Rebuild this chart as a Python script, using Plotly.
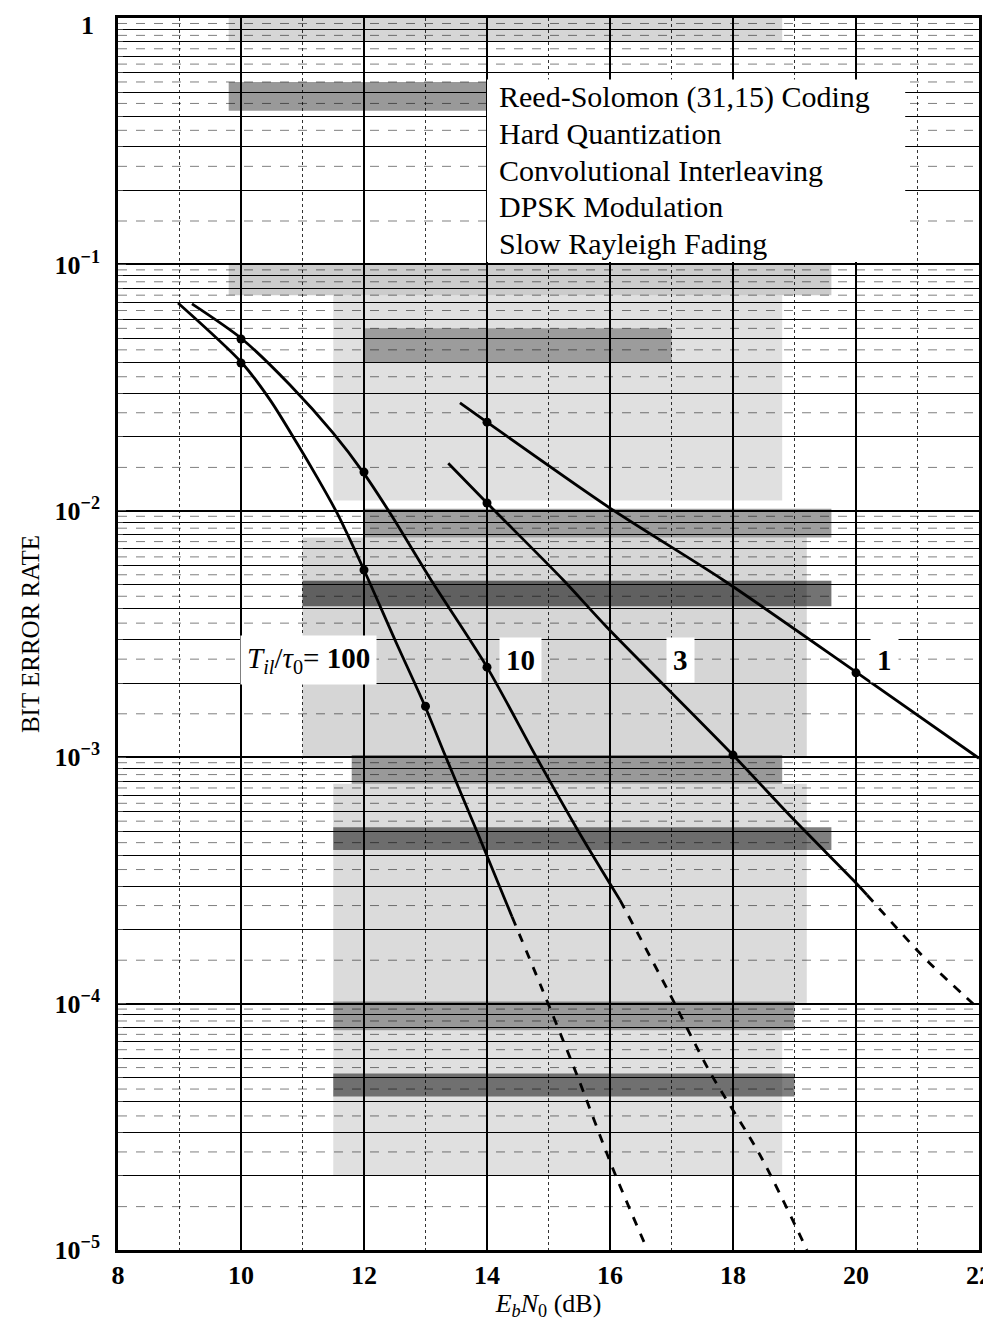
import math
import plotly.graph_objects as go

# ---- data ----
# T_il/tau0 = 100
ebn0_100 = [8.976, 10.016, 10.472, 10.911, 11.236, 11.561, 12.0, 12.504, 12.992, 13.317, 13.854, 14.407]
ber_100 = [0.0697, 0.0398, 0.0282, 0.0188, 0.0137, 0.0098, 0.00575, 0.00299, 0.00161, 0.00102, 0.000488, 0.000225]
ebn0_100_ext = [14.407, 14.894, 15.463, 16.049, 16.602]
ber_100_ext = [0.000225, 0.000115, 5.13e-5, 2.13e-5, 1.01e-5]
mk_x_100 = [10, 12, 13]
mk_y_100 = [0.0398, 0.00575, 0.00161]

# T_il/tau0 = 10
ebn0_10 = [9.203, 10.016, 10.797, 11.496, 11.984, 12.423, 13.122, 14.0, 14.813, 15.512, 16.163]
ber_10 = [0.0691, 0.0498, 0.0324, 0.0207, 0.01436, 0.0098, 0.00509, 0.00232, 0.00099, 0.000488, 0.000263]
ebn0_10_ext = [16.163, 16.927, 17.626, 18.439, 19.203]
ber_10_ext = [0.000263, 0.000115, 5.27e-5, 2.43e-5, 1.0e-5]
mk_x_10 = [10, 12, 14]
mk_y_10 = [0.0498, 0.01436, 0.00232]

# T_il/tau0 = 3
ebn0_3 = [13.37, 14.0, 15.24, 15.95, 18.0, 18.98, 19.95, 20.18]
ber_3 = [0.0156, 0.01076, 0.00524, 0.00337, 0.00102, 0.000561, 0.000318, 0.000276]
ebn0_3_ext = [20.18, 21.15, 21.98]
ber_3_ext = [0.000276, 0.000150, 9.6e-5]
mk_x_3 = [14, 18]
mk_y_3 = [0.01076, 0.00102]

# T_il/tau0 = 1
ebn0_1 = [13.56, 14.0, 16.0, 17.84, 20.02, 22.0]
ber_1 = [0.0274, 0.0229, 0.01026, 0.00524, 0.0022, 0.00099]
mk_x_1 = [14, 20]
mk_y_1 = [0.0229, 0.0022]

curve_labels = ["<i>T<sub>il</sub></i>/<i>τ</i><sub>0</sub>= <b>100</b>", "<b>10</b>", "<b>3</b>", "<b>1</b>"]
label_x = [11.09, 14.54, 17.15, 20.47]
label_y = [0.00248, 0.00248, 0.00248, 0.00248]

info_lines = ["Reed-Solomon (31,15) Coding", "Hard Quantization",
              "Convolutional Interleaving", "DPSK Modulation", "Slow Rayleigh Fading"]

x_ticks = [8, 10, 12, 14, 16, 18, 20, 22]
y_tickvals = [1e-5, 1e-4, 1e-3, 1e-2, 1e-1]
y_ticktext = ["10<sup>−5</sup>", "10<sup>−4</sup>", "10<sup>−3</sup>", "10<sup>−2</sup>", "10<sup>−1</sup>"]
y_top_label = "1"

FONT = "Liberation Serif"
LINE = dict(color="black", width=2.8)

fig = go.Figure()

# ---- scanned graph-paper look: grey bands behind the grid (decoration) ----
bands = [  # (x0, x1, y0, y1, opacity)
    (9.8, 18.8, 0.8, 1.0, 0.16), (9.8, 14.0, 0.42, 0.55, 0.4),
    (9.8, 19.6, 0.075, 0.1, 0.2), (11.5, 18.8, 0.011, 0.075, 0.12), (12.0, 17.0, 0.04, 0.055, 0.3),
    (12.0, 19.6, 0.0078, 0.0102, 0.38), (11.0, 19.2, 0.001, 0.0078, 0.16), (11.0, 19.6, 0.0041, 0.0052, 0.55),
    (11.8, 18.8, 0.00078, 0.00102, 0.4), (11.5, 19.2, 0.0001, 0.00078, 0.14), (11.5, 19.6, 0.00042, 0.00052, 0.5),
    (11.5, 19.0, 0.000078, 0.000102, 0.4), (11.5, 18.8, 0.00002, 0.000078, 0.12), (11.5, 19.0, 0.000042, 0.000052, 0.5),
]
for x0, x1, y0, y1, op in bands:
    fig.add_shape(type="rect", xref="x", yref="y", x0=x0, x1=x1, y0=y0, y1=y1,
                  fillcolor="rgba(0,0,0,%.2f)" % op, line=dict(width=0), layer="below")

# extra half-step horizontal rulings of the graph paper
for dec in range(-5, 0):
    for k in [1.5, 2.5, 3.5, 4.5, 5.5, 6.5, 7.5, 8.5, 9.5]:
        v = k * 10 ** dec
        fig.add_shape(type="line", xref="paper", yref="y", x0=0, x1=1, y0=v, y1=v,
                      line=dict(color="rgba(0,0,0,0.5)", width=1, dash="dash"), layer="below")


def add_curve(xs, ys, dash="solid"):
    fig.add_trace(go.Scatter(x=xs, y=ys, mode="lines",
                             line=dict(LINE, dash=dash, shape="spline", smoothing=0.8),
                             showlegend=False, hoverinfo="skip"))


def add_marks(xs, ys):
    fig.add_trace(go.Scatter(x=xs, y=ys, mode="markers", marker=dict(color="black", size=9),
                             showlegend=False, hoverinfo="skip"))


add_curve(ebn0_100, ber_100)
add_curve(ebn0_100_ext, ber_100_ext, dash="dash")
add_marks(mk_x_100, mk_y_100)
add_curve(ebn0_10, ber_10)
add_curve(ebn0_10_ext, ber_10_ext, dash="dash")
add_marks(mk_x_10, mk_y_10)
add_curve(ebn0_3, ber_3)
add_curve(ebn0_3_ext, ber_3_ext, dash="dash")
add_marks(mk_x_3, mk_y_3)
add_curve(ebn0_1, ber_1)
add_marks(mk_x_1, mk_y_1)

# white box behind the info text
fig.add_shape(type="rect", xref="x", yref="paper", x0=14.0, x1=20.8, y0=0.802, y1=0.95,
              fillcolor="white", line=dict(width=0), layer="above")
for i, t in enumerate(info_lines):
    fig.add_annotation(x=14.16, y=0.9359 - i * 0.0297, xref="x", yref="paper", text=t, showarrow=False,
                       xanchor="left", yanchor="middle", font=dict(family=FONT, size=30, color="black"))

for t, lx, ly in zip(curve_labels, label_x, label_y):
    fig.add_annotation(x=lx, y=math.log10(ly), xref="x", yref="y", text=t,
                       showarrow=False, bgcolor="white", borderpad=6,
                       font=dict(family=FONT, size=29, color="black"))

# top tick label "1" placed so it is not clipped at the page top
fig.add_annotation(x=0, y=1, xref="paper", yref="paper", text="<b>%s</b>" % y_top_label, showarrow=False,
                   xanchor="right", yanchor="top", xshift=-22, yshift=9,
                   font=dict(family=FONT, size=26, color="black"))

fig.update_xaxes(range=[8, 22], tickvals=x_ticks, ticktext=["<b>%d</b>" % v for v in x_ticks],
                 showgrid=True, gridcolor="black", gridwidth=1.5, automargin=False, ticklabeloverflow="allow",
                 minor=dict(dtick=1, showgrid=True, gridcolor="rgba(0,0,0,0.8)", griddash="dot", gridwidth=1.2),
                 showline=True, linecolor="black", linewidth=2.5, mirror=True, ticks="",
                 tickfont=dict(family=FONT, size=26, color="black"),
                 title=dict(text="<i>E<sub>b</sub>N</i><sub>0</sub> (dB)",
                            font=dict(family=FONT, size=26, color="black"), standoff=6),
                 zeroline=False)
fig.update_yaxes(type="log", range=[-5, 0], tickvals=y_tickvals, ticktext=["<b>%s</b>" % t for t in y_ticktext],
                 showgrid=True, gridcolor="black", gridwidth=2.2, automargin=False, ticklabeloverflow="allow",
                 minor=dict(dtick="D1", showgrid=True, gridcolor="black", gridwidth=1.4, ticks="inside", ticklen=5),
                 showline=True, linecolor="black", linewidth=2.5, mirror=True, ticks="inside", ticklen=8,
                 tickfont=dict(family=FONT, size=26, color="black"), ticklabelstandoff=10,
                 title=dict(text="BIT ERROR RATE", font=dict(family=FONT, size=25, color="black"), standoff=8),
                 zeroline=False)

# page body has an 8px margin: size the figure so the plot lands where the reference has it
fig.update_layout(width=983, height=1313, margin=dict(l=110, r=12, t=10, b=71),
                  plot_bgcolor="white", paper_bgcolor="white", showlegend=False)

fig.write_html("out.html")
